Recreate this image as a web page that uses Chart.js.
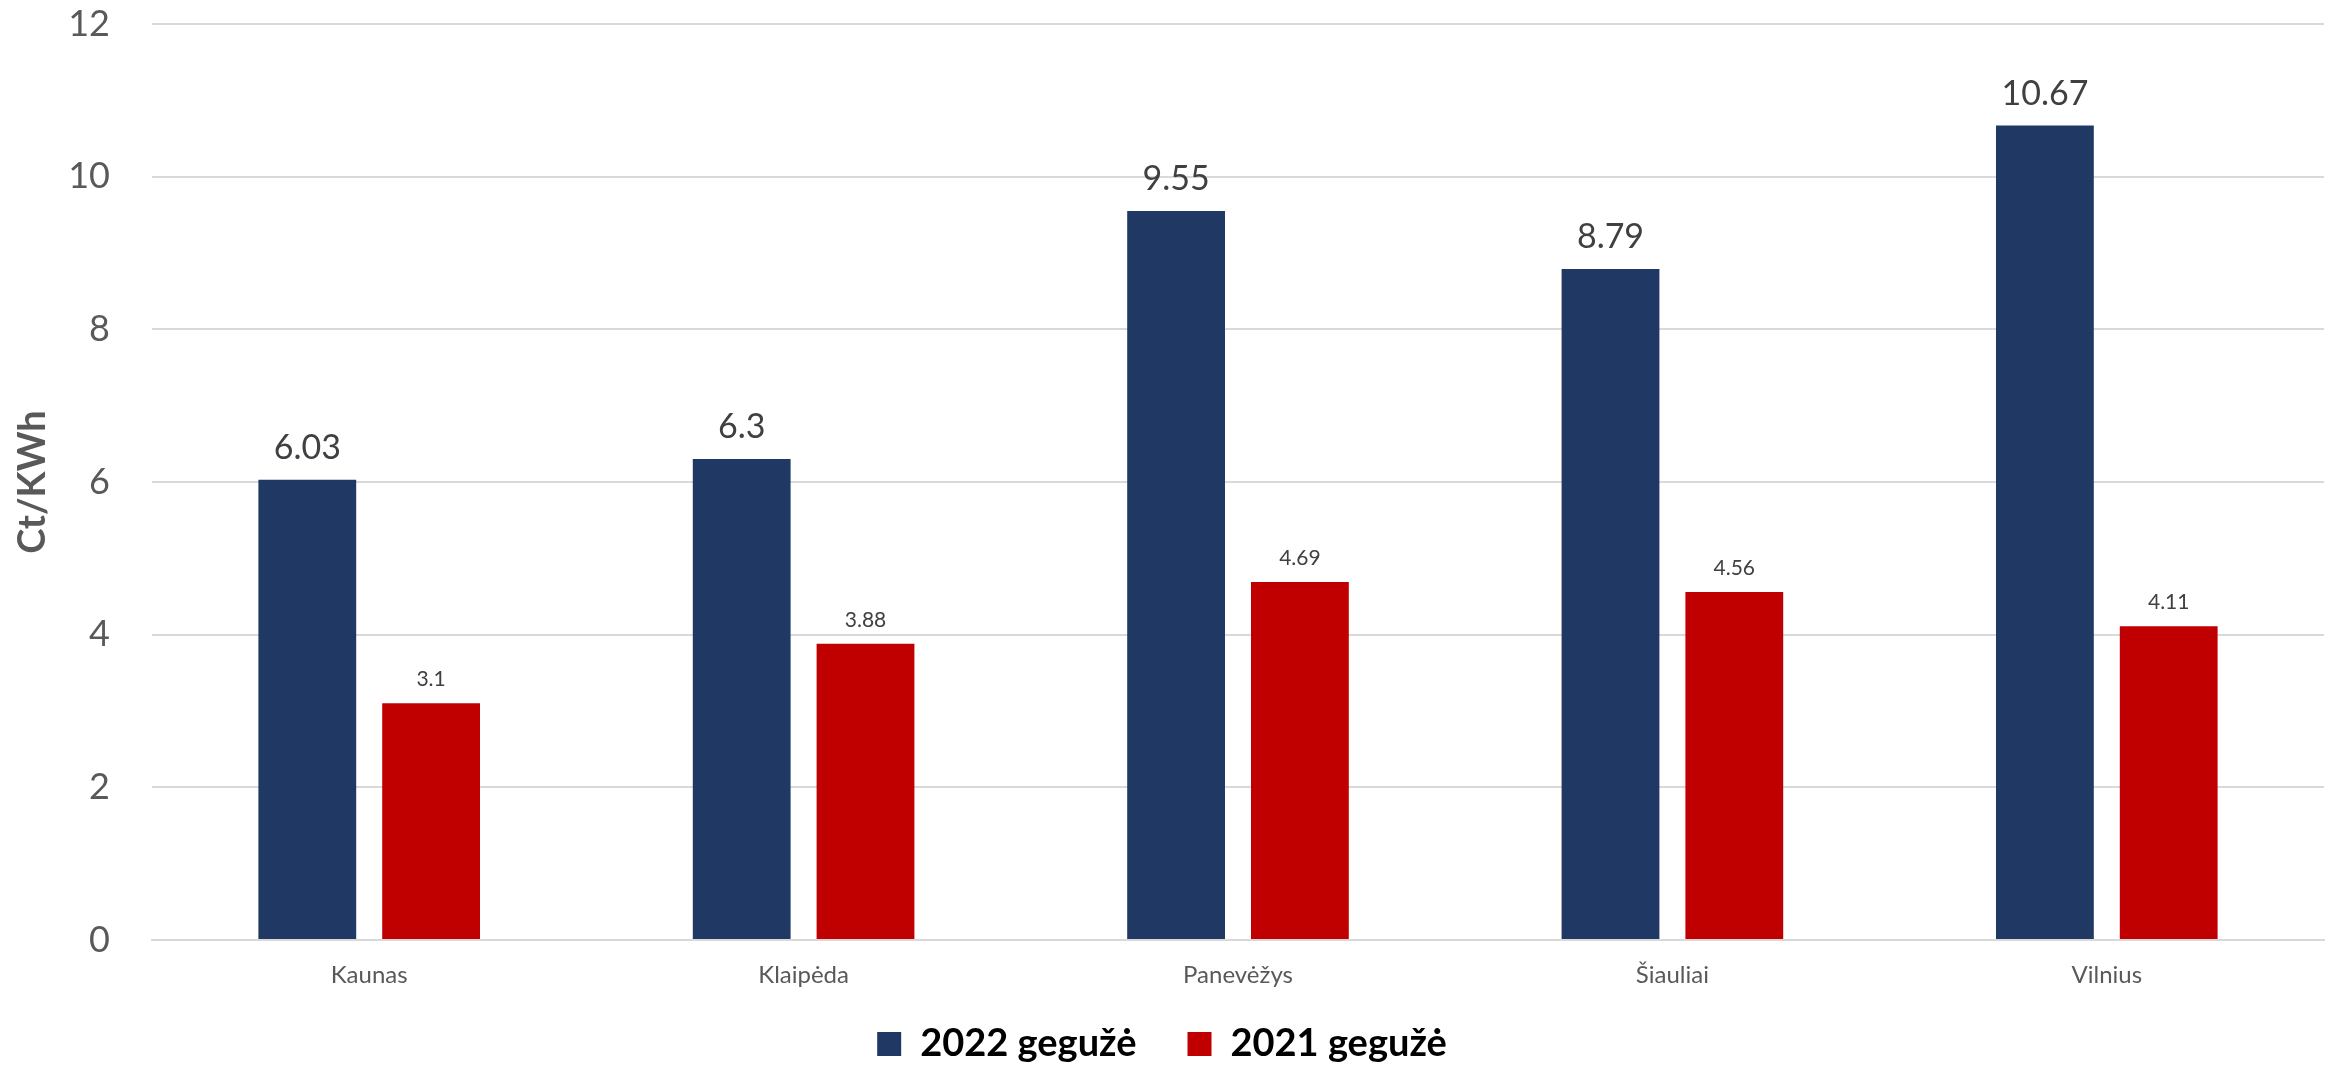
<!DOCTYPE html>
<html>
<head>
<meta charset="utf-8">
<script src="https://cdn.jsdelivr.net/npm/chart.js@4"></script>
<style>
  html, body { margin: 0; padding: 0; background: #fff; }
  #wrap { width: 2328px; height: 1066px; position: relative; }
</style>
</head>
<body>
<div id="wrap"><canvas id="priceChart"></canvas></div>
<script>
// Cities and prices (Ct/KWh)
const cities = ["Kaunas", "Klaipėda", "Panevėžys", "Šiauliai", "Vilnius"];
const may2022 = [6.03, 6.3, 9.55, 8.79, 10.67];
const may2021 = [3.1, 3.88, 4.69, 4.56, 4.11];
const seriesNames = ["2022 gegužė", "2021 gegužė"];
const yTicks = [0, 2, 4, 6, 8, 10, 12];

const FONT = "Lato, 'Open Sans', sans-serif";

// value labels above bars (no datalabels plugin available offline)
const valueLabels = {
  id: "valueLabels",
  afterDatasetsDraw(chart) {
    const ctx = chart.ctx;
    const styles = [
      { size: 34, offset: 21 },
      { size: 21, offset: 17 },
    ];
    chart.data.datasets.forEach((ds, i) => {
      const meta = chart.getDatasetMeta(i);
      const st = styles[i];
      ctx.save();
      ctx.font = st.size + "px " + FONT;
      ctx.fillStyle = "#404040";
      ctx.textAlign = "center";
      ctx.textBaseline = "alphabetic";
      meta.data.forEach((bar, j) => {
        ctx.fillText(String(ds.data[j]), bar.x, bar.y - st.offset);
      });
      ctx.restore();
    });
  },
};

const data = {
  labels: cities,
  datasets: [
    {
      label: seriesNames[0],
      data: may2022,
      backgroundColor: "#203864",
      categoryPercentage: 0.57,
      barPercentage: 0.79,
    },
    {
      label: seriesNames[1],
      data: may2021,
      backgroundColor: "#C00000",
      categoryPercentage: 0.57,
      barPercentage: 0.79,
    },
  ],
};

const config = {
  type: "bar",
  data: data,
  plugins: [valueLabels],
  options: {
    responsive: true,
    maintainAspectRatio: false,
    devicePixelRatio: 1,
    animation: false,
    layout: { padding: { top: 24, right: 4, left: 0, bottom: -7 } },
    scales: {
      x: {
        grid: { display: false, drawTicks: false },
        border: { display: true, color: "#d9d9d9", width: 2 },
        ticks: {
          color: "#595959",
          font: { family: FONT, size: 24 },
          padding: 21,
        },
        afterFit(scale) {
          scale.height = 53;
        },
      },
      y: {
        min: 0,
        max: 12,
        afterBuildTicks(scale) {
          scale.ticks = yTicks.map((v) => ({ value: v }));
        },
        grid: { color: "#d9d9d9", lineWidth: 2, drawTicks: false },
        border: { display: false },
        ticks: {
          color: "#595959",
          font: { family: FONT, size: 36 },
          padding: 42,
        },
        title: {
          display: true,
          text: "Ct/KWh",
          color: "#595959",
          font: { family: FONT, size: 38, weight: "bold" },
          padding: { top: 10, bottom: 0 },
        },
        afterFit(scale) {
          scale.width = 152;
          scale.paddingTop = 0;
          scale.paddingBottom = 0;
        },
      },
    },
    plugins: {
      legend: {
        position: "bottom",
        labels: {
          color: "#000000",
          font: { family: FONT, size: 38, weight: "bold" },
          boxWidth: 24,
          boxHeight: 24,
          padding: 32,
          generateLabels(chart) {
            const items = Chart.defaults.plugins.legend.labels.generateLabels(chart);
            // a little extra room between the two entries
            items[0].text = items[0].text + "\u2002";
            return items;
          },
        },
      },
      tooltip: { enabled: false },
    },
  },
};

const priceChart = new Chart(document.getElementById("priceChart"), config);
</script>
</body>
</html>
